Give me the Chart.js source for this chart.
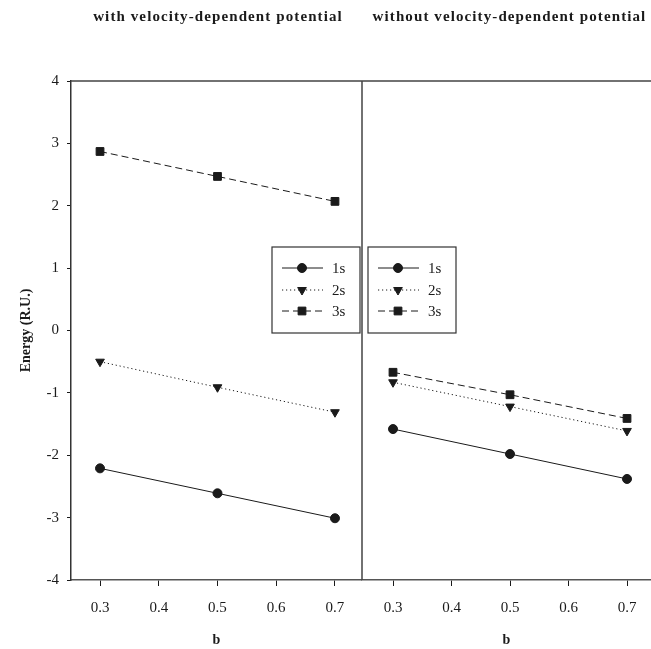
<!DOCTYPE html>
<html>
<head>
<meta charset="utf-8">
<script src="https://cdn.jsdelivr.net/npm/chart.js@4"></script>
<style>
  html, body { margin: 0; padding: 0; background: #fff; }
  canvas { display: block; }
</style>
</head>
<body>
<canvas id="energyChart" width="651" height="649"></canvas>
<script>
// b values where the levels were computed
var bValues = [0.3, 0.5, 0.7];
var xTicks = [0.3, 0.4, 0.5, 0.6, 0.7];
var yTicks = [-4, -3, -2, -1, 0, 1, 2, 3, 4];

// energies, with velocity-dependent potential
var with1s = [-2.21, -2.61, -3.01];
var with2s = [-0.50, -0.91, -1.31];
var with3s = [2.87, 2.47, 2.07];

// energies, without velocity-dependent potential
var without1s = [-1.58, -1.98, -2.38];
var without2s = [-0.83, -1.22, -1.61];
var without3s = [-0.67, -1.03, -1.41];

var levelNames = ['1s', '2s', '3s'];
var panelTitles = ['with velocity-dependent potential', 'without velocity-dependent potential'];

var serif = "'Liberation Serif', 'DejaVu Serif', serif";
var ink = '#1a1a1a';

var levelStyles = [
    { dash: [], point: 'circle', rot: 0, radius: 4.5 },
    { dash: [1.2, 2.8], point: 'triangle', rot: 180, radius: 5 },
    { dash: [7, 4], point: 'rect', rot: 0, radius: 5.5 }
];

function toPoints(ys) {
    var pts = [];
    for (var i = 0; i < bValues.length; i++) {
        pts.push({ x: bValues[i], y: ys[i] });
    }
    return pts;
}

function makeSet(name, ys, idx, axisId) {
    var st = levelStyles[idx];
    return {
        label: name,
        data: toPoints(ys),
        xAxisID: axisId,
        borderColor: ink,
        backgroundColor: ink,
        borderWidth: 1,
        borderDash: st.dash,
        pointStyle: st.point,
        pointRotation: st.rot,
        pointRadius: st.radius,
        pointBorderWidth: 1,
        pointBackgroundColor: ink,
        pointBorderColor: ink,
        tension: 0
    };
}

var leftSets = [with1s, with2s, with3s];
var rightSets = [without1s, without2s, without3s];
var datasets = [];
for (var i = 0; i < levelNames.length; i++) {
    datasets.push(makeSet(levelNames[i], leftSets[i], i, 'x'));
}
for (var j = 0; j < levelNames.length; j++) {
    datasets.push(makeSet(levelNames[j], rightSets[j], j, 'x2'));
}

function fixedTicks(list) {
    return function(scale) {
        scale.ticks = list.map(function(v) { return { value: v }; });
    };
}

function xScale(min, max, weight) {
    return {
        type: 'linear',
        position: 'bottom',
        stack: 'b',
        stackWeight: weight,
        min: min,
        max: max,
        afterBuildTicks: fixedTicks(xTicks),
        afterFit: function(scale) {
            scale.height = 69;
            scale.paddingLeft = 0;
            scale.paddingRight = 0;
        },
        grid: { drawOnChartArea: false, drawTicks: true, tickLength: 6, color: ink },
        border: { display: true, color: '#555', width: 1.5 },
        ticks: {
            color: ink,
            padding: 13,
            font: { family: serif, size: 15 },
            callback: function(v) { return v.toFixed(1); }
        },
        title: {
            display: true,
            text: 'b',
            color: ink,
            padding: { top: 0, bottom: 0 },
            font: { family: serif, size: 14, weight: 'bold' }
        }
    };
}

// frame, panel titles and the two in-plot legends
var framePlugin = {
    id: 'frame',
    afterDatasetsDraw: function(chart) {
        var ctx = chart.ctx;
        var area = chart.chartArea;
        var xl = chart.scales.x, xr = chart.scales.x2;
        ctx.save();
        ctx.strokeStyle = '#444';
        ctx.lineWidth = 1.5;
        ctx.beginPath();
        ctx.moveTo(area.left, area.top);
        ctx.lineTo(area.right, area.top);
        ctx.moveTo(xr.left, area.top);
        ctx.lineTo(xr.left, area.bottom);
        ctx.stroke();

        ctx.fillStyle = ink;
        ctx.font = 'bold 15px ' + serif;
        ctx.textAlign = 'center';
        ctx.textBaseline = 'middle';
        if ('letterSpacing' in ctx) ctx.letterSpacing = '1.1px';
        ctx.fillText(panelTitles[0], (xl.left + xl.right) / 2 + 1.5, 17);
        ctx.fillText(panelTitles[1], (xr.left + xr.right) / 2 + 3, 17);
        if ('letterSpacing' in ctx) ctx.letterSpacing = '0px';

        drawLegend(ctx, xl.left + 201, area.top + 166, 0);
        drawLegend(ctx, xr.left + 6, area.top + 166, 3);
        ctx.restore();

        function drawLegend(ctx, left, top, first) {
            ctx.save();
            ctx.strokeStyle = '#333';
            ctx.lineWidth = 1.2;
            ctx.setLineDash([]);
            ctx.strokeRect(left, top, 88, 86);
            var rowY = [21, 43, 64];
            for (var k = 0; k < 3; k++) {
                var ds = chart.data.datasets[first + k];
                var y = top + rowY[k];
                ctx.strokeStyle = ink;
                ctx.lineWidth = 1;
                ctx.setLineDash(ds.borderDash);
                ctx.beginPath();
                ctx.moveTo(left + 10, y);
                ctx.lineTo(left + 51, y);
                ctx.stroke();
                ctx.setLineDash([]);
                ctx.fillStyle = ink;
                Chart.helpers.drawPoint(ctx, {
                    pointStyle: ds.pointStyle,
                    rotation: ds.pointRotation,
                    radius: ds.pointRadius,
                    borderWidth: 1
                }, left + 30, y);
                ctx.font = '15px ' + serif;
                ctx.textAlign = 'left';
                ctx.textBaseline = 'middle';
                ctx.fillText(ds.label, left + 60, y + 1);
            }
            ctx.restore();
        }
    }
};

var energyChart = new Chart(document.getElementById('energyChart').getContext('2d'), {
    type: 'line',
    data: { datasets: datasets },
    options: {
        responsive: false,
        animation: false,
        devicePixelRatio: 1,
        layout: { autoPadding: false, padding: { top: 81, right: 0, bottom: 0, left: 0 } },
        plugins: {
            legend: { display: false },
            tooltip: { enabled: false }
        },
        scales: {
            x: xScale(0.2506, 0.746, 291),
            x2: xScale(0.247, 0.741, 289),
            y: {
                type: 'linear',
                position: 'left',
                min: -4,
                max: 4,
                afterBuildTicks: fixedTicks(yTicks),
                afterFit: function(scale) { scale.width = 71; },
                grid: { drawOnChartArea: false, drawTicks: true, tickLength: 4, color: ink },
                border: { display: true, color: '#333', width: 1.5 },
                ticks: {
                    color: ink,
                    padding: 8,
                    font: { family: serif, size: 15 }
                },
                title: {
                    display: true,
                    text: 'Energy (R.U.)',
                    color: ink,
                    padding: { top: 18, bottom: 0 },
                    font: { family: serif, size: 14, weight: 'bold' }
                }
            }
        }
    },
    plugins: [framePlugin]
});
</script>
</body>
</html>
